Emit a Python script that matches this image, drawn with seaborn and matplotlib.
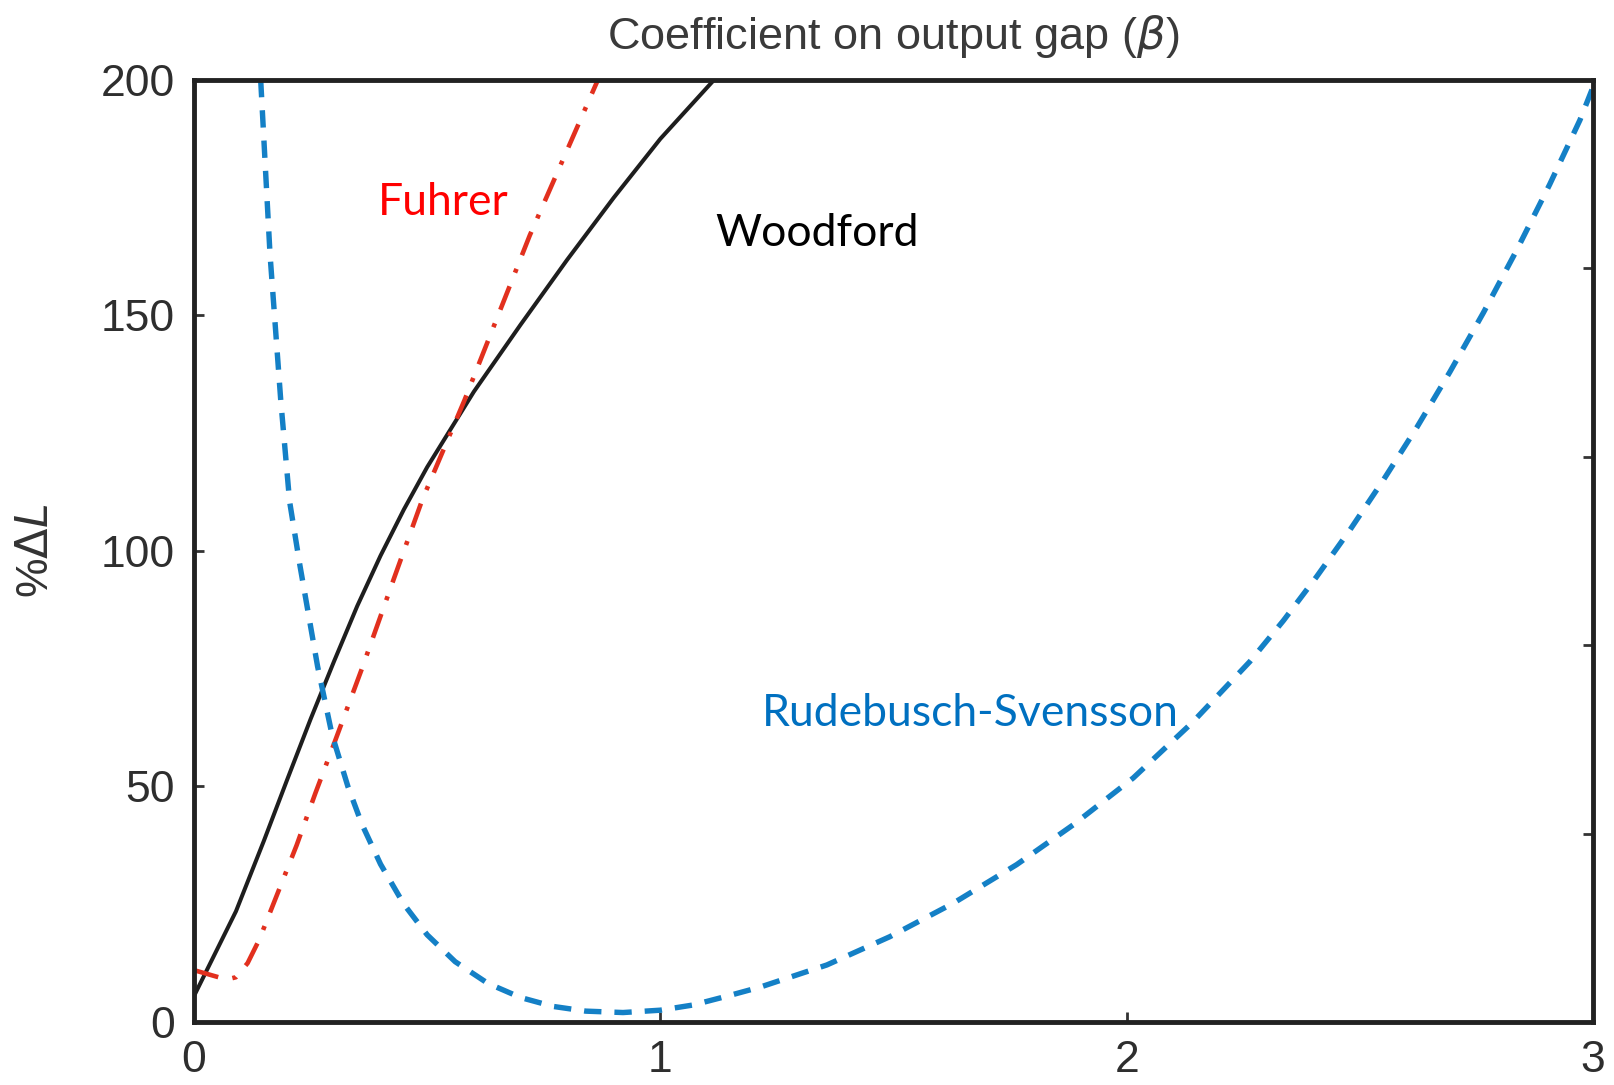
import numpy as np
import pandas as pd
import matplotlib
matplotlib.use("Agg")
import matplotlib.pyplot as plt
import seaborn as sns

# ---- data ----
woodford_x = [0.0, 0.05, 0.09, 0.15, 0.2, 0.25, 0.3, 0.35, 0.4, 0.45, 0.5, 0.6, 0.7, 0.8, 0.9, 1.0, 1.115]
woodford_y = [5.5, 15.5, 23.5, 38.5, 51.5, 64.3, 76.5, 88.3, 99, 108.8, 117.8, 133.8, 148, 161.8, 175, 187.5, 200]

fuhrer_x = [0.0, 0.035, 0.07, 0.09, 0.115, 0.14, 0.16, 0.18, 0.22, 0.26, 0.3, 0.36, 0.43, 0.49, 0.58, 0.72, 0.866]
fuhrer_y = [11, 10, 9, 9.5, 12.5, 17.5, 22.5, 27.5, 37.5, 48.5, 59, 75, 94.5, 111, 132, 167, 200]

rs_x = [0.143, 0.163, 0.186, 0.205, 0.227, 0.265, 0.296, 0.33, 0.36, 0.4, 0.45, 0.5, 0.56, 0.63,
        0.7, 0.77, 0.84, 0.92, 1.0, 1.07, 1.14, 1.214, 1.357, 1.492, 1.628, 1.764, 1.886, 2.014,
        2.14, 2.264, 2.336, 2.407, 2.479, 2.55, 2.622, 2.693, 2.765, 2.836, 2.907, 2.972, 3.0]
rs_y = [200, 163, 132, 110.5, 97, 75.5, 61, 50, 42, 33.5, 25, 18.5, 12.8, 8.2,
        5.2, 3.3, 2.3, 2.0, 2.5, 3.6, 5.4, 7.4, 12.1, 18.1, 25.2, 33.4, 41.9, 51.8,
        63.5, 76.5, 85.2, 94.5, 104.5, 115, 126.2, 138, 150.6, 163.8, 177.8, 191.5, 198.5]

x_ticks = [0, 1, 2, 3]
y_ticks = [0, 50, 100, 150, 200]
right_ticks = [40, 80, 120, 160]

labels = {"Fuhrer": (0.395, 171.3), "Woodford": (1.117, 164.7), "Rudebusch-Svensson": (1.218, 62.8)}

# ---- style ----
sns.set_style("ticks")
plt.rcParams["font.family"] = ["Liberation Sans", "DejaVu Sans"]
plt.rcParams["mathtext.fontset"] = "dejavusans"

fig = plt.figure(figsize=(16.14, 10.85), dpi=100)
ax = fig.add_axes([0.1202, 0.0581, 0.8668, 0.8682])

sns.lineplot(x=woodford_x, y=woodford_y, ax=ax, color="#1e1e1e", lw=2.9, estimator=None)
sns.lineplot(x=fuhrer_x, y=fuhrer_y, ax=ax, color="#e2301e", lw=3.3, estimator=None,
             linestyle=(0, (5.5, 3.2, 0.9, 3.2)))
sns.lineplot(x=rs_x, y=rs_y, ax=ax, color="#1480c6", lw=3.9, estimator=None,
             linestyle=(0, (3.2, 2.4)))

ax.set_xlim(0, 3)
ax.set_ylim(0, 200)
ax.set_xticks(x_ticks)
ax.set_yticks(y_ticks)
ax.set_xticklabels([str(v) for v in x_ticks])
ax.set_yticklabels([str(v) for v in y_ticks])

for s in ax.spines.values():
    s.set_visible(True)
    s.set_color("#222222")
    s.set_linewidth(3.5)

ax.tick_params(axis="both", direction="in", length=7, width=2, color="#333333",
               labelcolor="#2e2e2e", labelsize=32, top=False, right=False)
ax.tick_params(axis="x", pad=13)
ax.tick_params(axis="y", pad=14)

sec = ax.secondary_yaxis("right")
sec.set_yticks(right_ticks)
sec.set_yticklabels([])
sec.tick_params(direction="in", length=7, width=2, color="#333333")
sec.spines["right"].set_visible(False)

ax.set_title("Coefficient on output gap ($\\beta$)", fontsize=32.5, color="#3a3a3a", pad=22)
ax.set_ylabel("%$\\Delta L$", fontsize=32, color="#333333")
ax.yaxis.set_label_coords(-0.098, 0.5)

ax.text(*labels["Fuhrer"], "Fuhrer", color="#ff0000", fontsize=32, family="Lato",
        ha="left", va="baseline")
ax.text(*labels["Woodford"], "Woodford", color="#000000", fontsize=32, family="Lato",
        ha="left", va="baseline")
ax.text(*labels["Rudebusch-Svensson"], "Rudebusch-Svensson", color="#0070c0", fontsize=32,
        family="Lato", ha="left", va="baseline")

fig.savefig("out.png", dpi=100)
